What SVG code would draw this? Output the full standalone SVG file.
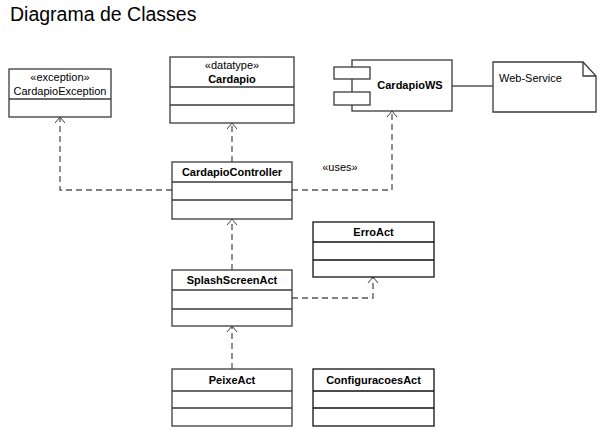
<svg xmlns="http://www.w3.org/2000/svg" width="608" height="440" viewBox="0 0 608 440">
<defs>
<style>
text{font-family:"Liberation Sans",Arial,sans-serif;fill:#000}
.t{font-size:19.5px}
.n{font-size:11px;text-anchor:middle}
.b{font-weight:bold}
.box{fill:#fff;stroke:#3a3a3a;stroke-width:1.3}
.dv{stroke:#3a3a3a;stroke-width:1.3}
.dep{fill:none;stroke:#555;stroke-width:1.3;stroke-dasharray:6,4}
.ah{fill:none;stroke:#444;stroke-width:1}
.ln{stroke:#555;stroke-width:1.3}
</style>
</defs>
<rect width="608" height="440" fill="#fff"/>
<text class="t" x="10" y="21">Diagrama de Classes</text>

<g id="connectors">
<path class="dep" d="M232,162V124"/>
<path class="ah" d="M227,129L232,123L237,129"/>
<path class="dep" d="M292,190H392V112"/>
<path class="ah" d="M387,117L392,111L397,117"/>
<path class="dep" d="M172,190H60V118"/>
<path class="ah" d="M55,123L60,117L65,123"/>
<path class="dep" d="M232,270V220"/>
<path class="ah" d="M227,225L232,219L237,225"/>
<path class="dep" d="M292,298H373V278"/>
<path class="ah" d="M368,283L373,277L378,283"/>
<path class="dep" d="M232,369V327"/>
<path class="ah" d="M227,332L232,326L237,332"/>
<line class="ln" x1="452" y1="86" x2="493" y2="86"/>
<text class="n" x="340" y="171">«uses»</text>
</g>

<g id="CardapioException">
<rect class="box" x="9" y="69" width="102" height="48"/>
<line class="dv" x1="9" y1="99" x2="111" y2="99"/>
<text class="n" x="60" y="81">«exception»</text>
<text class="n" x="60" y="95">CardapioException</text>
</g>

<g id="Cardapio">
<rect class="box" x="170" y="57" width="124" height="66"/>
<line class="dv" x1="170" y1="87" x2="294" y2="87"/>
<line class="dv" x1="170" y1="105" x2="294" y2="105"/>
<text class="n" x="232" y="69">«datatype»</text>
<text class="n b" x="232" y="83">Cardapio</text>
</g>

<g id="CardapioWS">
<rect class="box" x="352" y="60" width="100" height="51"/>
<rect class="box" x="334" y="67" width="36" height="12"/>
<rect class="box" x="334" y="92" width="36" height="13"/>
<text class="n b" x="410" y="89">CardapioWS</text>
</g>

<g id="WebService">
<path class="box" d="M493,62H583L596,76V112H493Z"/>
<path fill="none" stroke="#3a3a3a" stroke-width="1.3" d="M583,62V76H596"/>
<text x="499" y="82" style="font-size:11px">Web-Service</text>
</g>

<g id="CardapioController">
<rect class="box" x="172" y="162" width="120" height="57"/>
<line class="dv" x1="172" y1="182" x2="292" y2="182"/>
<line class="dv" x1="172" y1="200" x2="292" y2="200"/>
<text class="n b" x="232" y="176">CardapioController</text>
</g>

<g id="ErroAct">
<rect class="box" x="313" y="222" width="121" height="55" style="stroke:#111"/>
<line class="dv" x1="313" y1="242" x2="434" y2="242" style="stroke:#111"/>
<line class="dv" x1="313" y1="260" x2="434" y2="260" style="stroke:#111"/>
<text class="n b" x="373.5" y="236">ErroAct</text>
</g>

<g id="SplashScreenAct">
<rect class="box" x="172" y="270" width="120" height="56"/>
<line class="dv" x1="172" y1="290" x2="292" y2="290"/>
<line class="dv" x1="172" y1="309" x2="292" y2="309"/>
<text class="n b" x="232" y="284">SplashScreenAct</text>
</g>

<g id="PeixeAct">
<rect class="box" x="172" y="369" width="120" height="57"/>
<line class="dv" x1="172" y1="391" x2="292" y2="391"/>
<line class="dv" x1="172" y1="408" x2="292" y2="408"/>
<text class="n b" x="232" y="384">PeixeAct</text>
</g>

<g id="ConfiguracoesAct">
<rect class="box" x="313" y="369" width="121" height="57" style="stroke:#111"/>
<line class="dv" x1="313" y1="391" x2="434" y2="391" style="stroke:#111"/>
<line class="dv" x1="313" y1="408" x2="434" y2="408" style="stroke:#111"/>
<text class="n b" x="373.5" y="384">ConfiguracoesAct</text>
</g>
</svg>
